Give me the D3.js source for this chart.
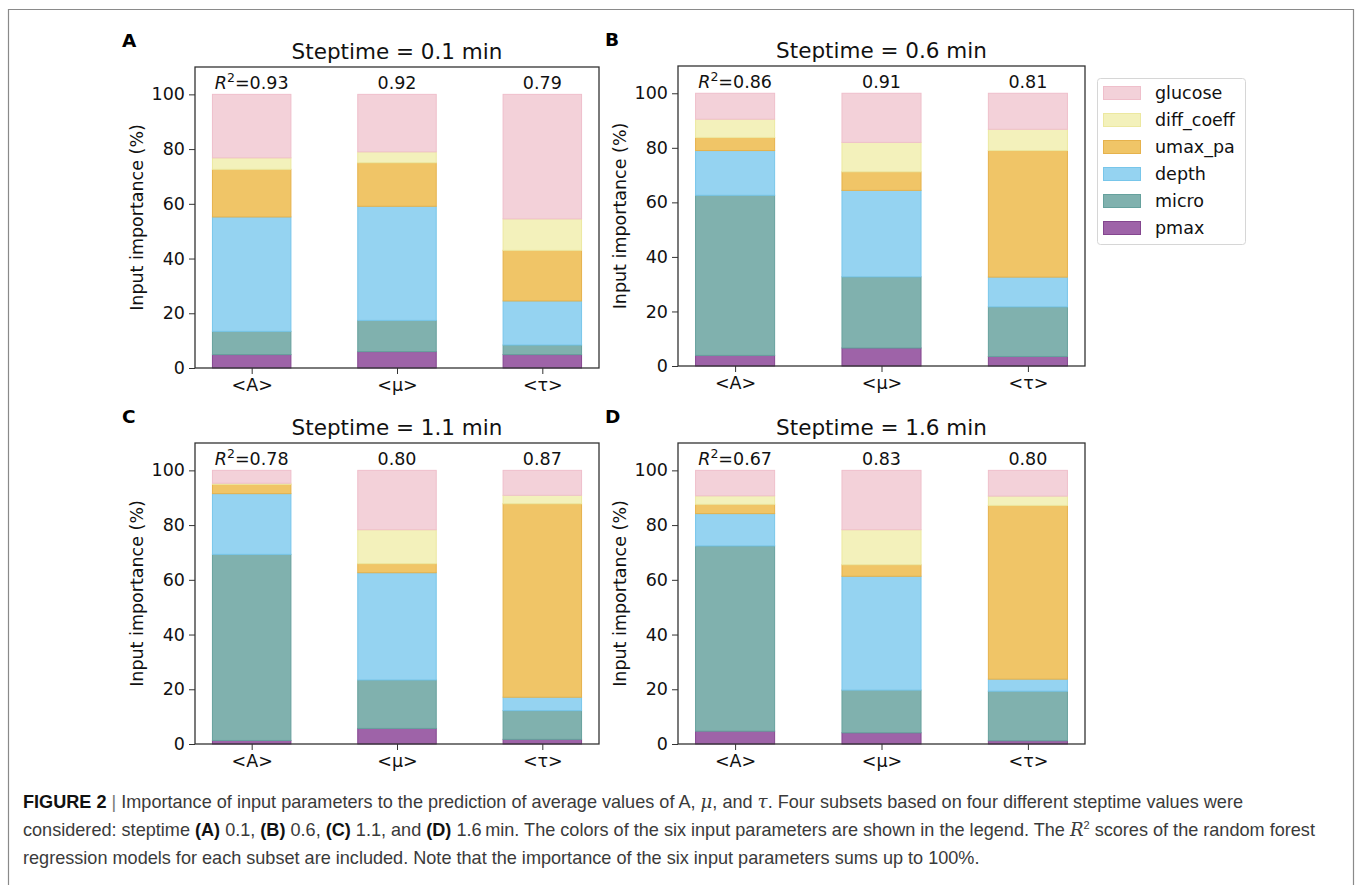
<!DOCTYPE html>
<html>
<head>
<meta charset="utf-8">
<script src="https://cdn.jsdelivr.net/npm/d3@7"></script>
<style>
  body { margin: 0; background: #fff; }
  svg { display: block; }
</style>
</head>
<body>
<svg id="chart" width="1356" height="885"></svg>
<script>
// ---------------- DATA ----------------
const categories = ["<A>", "<\u03bc>", "<\u03c4>"];
const panelLabels = ["A", "B", "C", "D"];
const steptimes = ["0.1", "0.6", "1.1", "1.6"];
const r2Scores = [
  ["0.93", "0.92", "0.79"],
  ["0.86", "0.91", "0.81"],
  ["0.78", "0.80", "0.87"],
  ["0.67", "0.83", "0.80"]
];
// stack order, bottom to top
const params = ["pmax", "micro", "depth", "umax_pa", "diff_coeff", "glucose"];
const legendOrder = ["glucose", "diff_coeff", "umax_pa", "depth", "micro", "pmax"];
const yTicks = [0, 20, 40, 60, 80, 100];

// values per panel [A,B,C,D], each [<A>, <mu>, <tau>] (%)
const pmax       = [[4.9, 6.0, 4.9], [3.9, 6.6, 3.5], [1.3, 5.7, 1.7], [4.7, 4.1, 1.2]];
const micro      = [[8.5, 11.4, 3.5], [58.7, 26.1, 18.2], [68.0, 17.7, 10.5], [67.7, 15.6, 18.1]];
const depth      = [[41.8, 41.7, 16.1], [16.4, 31.7, 10.9], [22.2, 39.2, 4.9], [11.8, 41.6, 4.4]];
const umax_pa    = [[17.4, 15.9, 18.5], [4.8, 6.8, 46.4], [3.4, 3.3, 70.7], [3.4, 4.2, 63.5]];
const diff_coeff = [[4.2, 4.0, 11.5], [6.7, 10.8, 7.8], [0.4, 12.4, 3.1], [3.1, 12.8, 3.4]];
const glucose    = [[23.2, 21.0, 45.5], [9.5, 18.0, 13.2], [4.7, 21.7, 9.1], [9.3, 21.7, 9.4]];

const seriesValues = { pmax, micro, depth, umax_pa, diff_coeff, glucose };

// ---------------- STYLE ----------------
const fills = {
  glucose: "#f3d1d9", diff_coeff: "#f3f1bb", umax_pa: "#f0c567",
  depth: "#95d3f1", micro: "#80b1ae", pmax: "#9e63a8"
};
const strokes = {
  glucose: "#efbfcb", diff_coeff: "#ece8a0", umax_pa: "#e6b24c",
  depth: "#78c6ea", micro: "#66a19d", pmax: "#84468f"
};

const panelBoxes = [
  { left: 195, top: 67, right: 599, bottom: 368 },
  { left: 678, top: 66, right: 1085, bottom: 366 },
  { left: 195, top: 443, right: 599, bottom: 744 },
  { left: 678, top: 443, right: 1085, bottom: 744 }
];

const svg = d3.select("#chart");
const FONT = "'DejaVu Sans', sans-serif";

// outer frame
svg.append("path")
  .attr("d", "M8.5,890 L8.5,9.5 L1353.5,9.5 L1353.5,890")
  .attr("fill", "none").attr("stroke", "#8a8a8a").attr("stroke-width", 1.2);

const stackGen = d3.stack().keys(params);

panelBoxes.forEach((box, pi) => {
  const g = svg.append("g");
  const x = d3.scaleLinear().domain([-0.39, 2.39]).range([box.left, box.right]);
  const y = d3.scaleLinear().domain([0, 110]).range([box.bottom, box.top]);
  const barW = 0.54;

  const rows = categories.map((c, ci) => {
    const r = { cat: c, idx: ci };
    params.forEach(p => { r[p] = seriesValues[p][pi][ci]; });
    return r;
  });
  const stacked = stackGen(rows);

  stacked.forEach(layer => {
    g.append("g").selectAll("rect").data(layer).join("rect")
      .attr("x", d => x(d.data.idx - barW / 2))
      .attr("width", d => x(d.data.idx + barW / 2) - x(d.data.idx - barW / 2))
      .attr("y", d => y(d[1]))
      .attr("height", d => y(d[0]) - y(d[1]))
      .attr("fill", fills[layer.key])
      .attr("stroke", strokes[layer.key])
      .attr("stroke-width", 1);
  });

  // axes
  const yAxis = d3.axisLeft(y).tickValues(yTicks).tickSize(6).tickPadding(4);
  const ya = g.append("g").attr("transform", `translate(${box.left},0)`).call(yAxis);
  ya.select(".domain").remove();
  ya.selectAll("text").attr("font-family", FONT).attr("font-size", 17.5).attr("fill", "#111");
  ya.selectAll("line").attr("stroke", "#333");

  const xAxis = d3.axisBottom(x).tickValues([0, 1, 2]).tickFormat(i => categories[i]).tickSize(6).tickPadding(5);
  const xa = g.append("g").attr("transform", `translate(0,${box.bottom})`).call(xAxis);
  xa.select(".domain").remove();
  xa.selectAll("text").attr("font-family", FONT).attr("font-size", 17.5).attr("fill", "#111");
  xa.selectAll("line").attr("stroke", "#333");

  // spines
  g.append("rect")
    .attr("x", box.left).attr("y", box.top)
    .attr("width", box.right - box.left).attr("height", box.bottom - box.top)
    .attr("fill", "none").attr("stroke", "#333").attr("stroke-width", 1.3);

  // title
  g.append("text")
    .attr("x", (box.left + box.right) / 2).attr("y", box.top - 8)
    .attr("text-anchor", "middle").attr("font-family", FONT).attr("font-size", 21.5).attr("fill", "#111")
    .text(`Steptime = ${steptimes[pi]} min`);

  // panel label
  g.append("text")
    .attr("x", box.left - 73).attr("y", box.top - 20)
    .attr("font-family", FONT).attr("font-weight", "bold").attr("font-size", 18.5).attr("fill", "#000")
    .text(panelLabels[pi]);

  // y label
  g.append("text")
    .attr("transform", `translate(${box.left - 52},${(box.top + box.bottom) / 2}) rotate(-90)`)
    .attr("text-anchor", "middle").attr("font-family", FONT).attr("font-size", 17.5).attr("fill", "#111")
    .text("Input importance (%)");

  // R2 annotations
  r2Scores[pi].forEach((s, ci) => {
    const t = g.append("text")
      .attr("x", x(ci)).attr("y", y(100) - 5)
      .attr("text-anchor", "middle").attr("font-family", FONT).attr("font-size", 17.5).attr("fill", "#111");
    if (ci === 0) {
      t.append("tspan").attr("font-style", "italic").text("R");
      t.append("tspan").attr("font-size", 12.5).attr("dy", -7).text("2");
      t.append("tspan").attr("dy", 7).text("=" + s);
    } else {
      t.text(s);
    }
  });
});

// legend
const lg = svg.append("g");
lg.append("rect").attr("x", 1097.5).attr("y", 78.5).attr("width", 148).attr("height", 166)
  .attr("rx", 3).attr("fill", "#fff").attr("stroke", "#d6d6d6").attr("stroke-width", 1);
legendOrder.forEach((k, i) => {
  const cy = 93 + i * 27;
  lg.append("rect").attr("x", 1103.5).attr("y", cy - 6.5).attr("width", 37).attr("height", 13)
    .attr("fill", fills[k]).attr("stroke", strokes[k]).attr("stroke-width", 1);
  lg.append("text").attr("x", 1155).attr("y", cy + 6)
    .attr("font-family", FONT).attr("font-size", 17.5).attr("fill", "#111").text(k);
});

// caption
const CAP = "'Liberation Sans', Arial, sans-serif";
const capSize = 18.1;
const capColor = "#3a3a3a";
function capLine(yPos, parts) {
  const t = svg.append("text").attr("x", 23).attr("y", yPos)
    .attr("font-family", CAP).attr("font-size", capSize).attr("fill", capColor);
  parts.forEach(p => {
    const ts = t.append("tspan").text(p.t);
    if (p.b) ts.attr("font-weight", "bold").attr("fill", "#111");
    if (p.i) ts.attr("font-style", "italic").attr("font-family", "'DejaVu Serif', serif");
    if (p.sup) ts.attr("font-size", 11).attr("dy", -7);
    if (p.dy) ts.attr("dy", p.dy);
    if (p.c) ts.attr("fill", p.c);
  });
}
capLine(808, [
  { t: "FIGURE 2", b: true },
  { t: " | ", c: "#777" },
  { t: "Importance of input parameters to the prediction of average values of A, " },
  { t: "\u03bc", i: true },
  { t: ", and " },
  { t: "\u03c4", i: true },
  { t: ". Four subsets based on four different steptime values were" }
]);
capLine(836, [
  { t: "considered: steptime " },
  { t: "(A)", b: true }, { t: " 0.1, " },
  { t: "(B)", b: true }, { t: " 0.6, " },
  { t: "(C)", b: true }, { t: " 1.1, and " },
  { t: "(D)", b: true }, { t: " 1.6\u2009min. The colors of the six input parameters are shown in the legend. The " },
  { t: "R", i: true },
  { t: "2", sup: true },
  { t: " scores of the random forest", dy: 7 }
]);
capLine(864, [
  { t: "regression models for each subset are included. Note that the importance of the six input parameters sums up to 100%." }
]);
</script>
</body>
</html>
